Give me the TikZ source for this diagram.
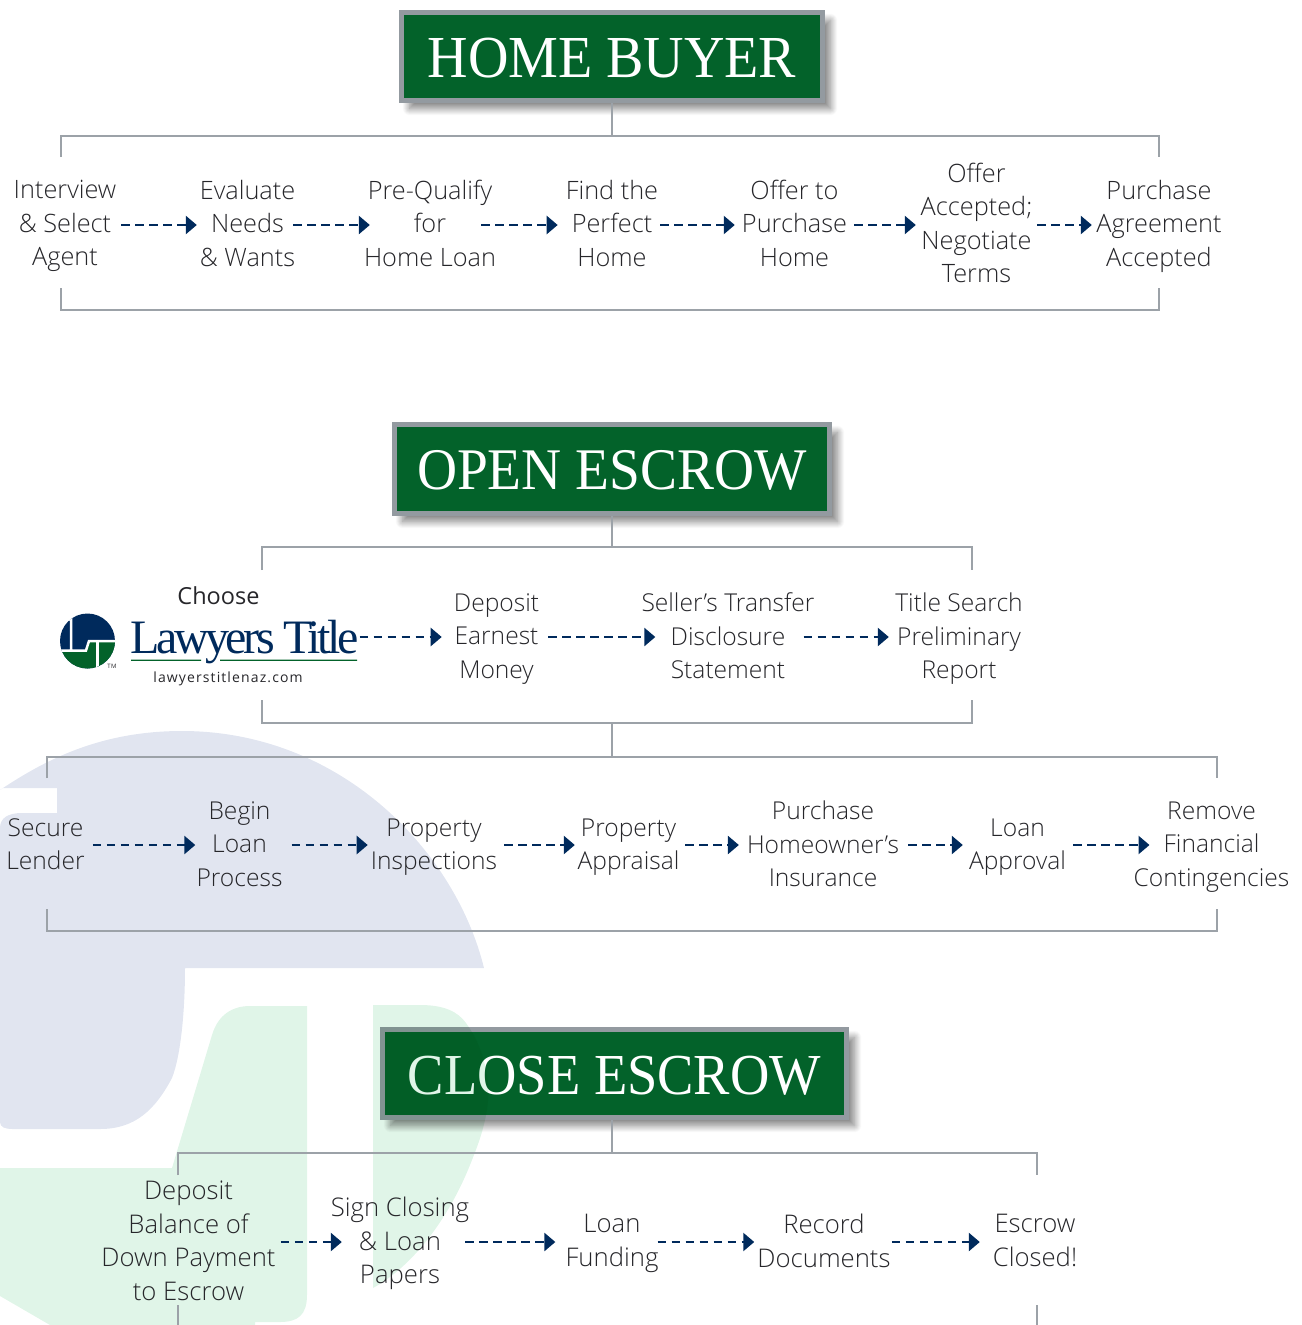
\documentclass[tikz,border=0pt]{standalone}
\usepackage{fontspec}
\usetikzlibrary{arrows.meta,shadows.blur}
\setmainfont{Open Sans Light}
\newfontfamily\bodyf{Open Sans Light}
\newfontfamily\choosef{Open Sans}
\newfontfamily\headf[FakeStretch=0.94]{Liberation Serif}
\newfontfamily\urlf[LetterSpace=8]{Open Sans}
\newfontfamily\logof[LetterSpace=-7.3]{Liberation Serif}
\definecolor{framegray}{HTML}{939AA0}
\definecolor{headgreen}{HTML}{03622A}
\definecolor{navy}{HTML}{002A5C}
\definecolor{rulegray}{HTML}{9CA2A8}
\definecolor{ink}{HTML}{26262A}
\definecolor{wmblue}{HTML}{E1E5F0}
\definecolor{wmgreen}{HTML}{E0F5E8}
\newcommand{\lineprop}[2]{\rule[-#2pt]{0pt}{#1pt}}
\newcommand{\lsize}{24.6}
\newcommand{\rowshift}{0}
\tikzset{
  x=1pt,y=-1pt,
  lbl/.style={font=\bodyf\fontsize{\lsize}{33.5}\selectfont,text=ink,align=center,inner sep=0pt,
     execute at begin node={\lineprop{34}{0}},execute at end node={\lineprop{0}{10}}},
  head/.style={draw=framegray,line width=5pt,fill=headgreen,text=white,inner sep=0pt,text height=41pt,text depth=0pt,
     blur shadow={shadow xshift=8pt,shadow yshift=-8pt,shadow blur steps=14,shadow blur radius=7pt,shadow opacity=50}},
  flow/.style={draw=navy,line width=2.5pt,dash pattern=on 8.5pt off 5.5pt,-{Triangle[length=11pt,width=18pt,fill=navy]}},
  rule/.style={draw=rulegray,line width=1.2pt},
}
\newcommand{\lab}[5]{\node[lbl,minimum width=#4 pt] (#1) at (#2,#3) {#5};}
\newcommand{\flowto}[4]{\draw[flow,shorten <=#2pt,shorten >=#4pt] ([yshift=\rowshift pt]#1.east) -- ([yshift=\rowshift pt]#3.west);}
\begin{document}
\begin{tikzpicture}
\useasboundingbox (0,0) rectangle (1301,1325);
% watermark
\fill[wmblue] (0,790) -- (3,788) -- (57,788) -- (57,813) -- (22,813) .. controls (8,813) and (0,818) .. (0,828)
 -- (0,1122) .. controls (0,1127) and (5,1129) .. (12,1129) -- (100,1129)
 .. controls (135,1129) and (155,1110) .. (172,1078) .. controls (181,1055) and (185,1010) .. (185,968)
 -- (484,968) .. controls (455,850) and (340,731) .. (182,731) .. controls (100,731) and (45,760) .. (0,790) -- cycle;
\fill[wmgreen] (0,1168) -- (172,1168) -- (212,1035) .. controls (218,1015) and (232,1006) .. (250,1006) -- (307,1006)
 -- (307,1295) .. controls (307,1315) and (298,1322) .. (280,1322) -- (255,1322) -- (255,1325) -- (50,1325) -- (0,1296) -- cycle;
% headers
\node[head,minimum width=421pt,minimum height=88pt,font=\headf\fontsize{59.6}{59}\selectfont] (h1) at (612,56.5) {HOME BUYER};
\node[head,minimum width=435pt,minimum height=89pt,font=\headf\fontsize{59}{59}\selectfont] (h2) at (612,469) {OPEN ESCROW};
\node[head,minimum width=464pt,minimum height=88pt,font=\headf\fontsize{58}{59}\selectfont] (h3) at (614.5,1073.5) {CLOSE ESCROW};
\fill[wmgreen,blend mode=multiply] (373,1005) -- (420,1005) .. controls (445,1005) and (458,1012) .. (466,1023) .. controls (482,1045) and (490,1075) .. (488,1100) .. controls (486,1125) and (478,1145) .. (470,1165) .. controls (450,1215) and (415,1265) .. (373,1288) -- cycle;
% brackets
\coordinate (a1) at (61,157); \coordinate (a2) at (61,136); \coordinate (a3) at (1159,136); \coordinate (a4) at (1159,157); \coordinate (aj) at (612,136);
\coordinate (b1) at (61,288); \coordinate (b2) at (61,310); \coordinate (b3) at (1159,310); \coordinate (b4) at (1159,288);
\draw[rule] (a1) -- (a2) -- (a3) -- (a4);
\draw[rule] (b1) -- (b2) -- (b3) -- (b4);
\draw[rule] (aj) -- (aj |- h1.south);
\coordinate (c1) at (262,570); \coordinate (c2) at (262,547); \coordinate (c3) at (972,547); \coordinate (c4) at (972,570); \coordinate (cj) at (612,547);
\coordinate (d1) at (262,700); \coordinate (d2) at (262,723); \coordinate (d3) at (972,723); \coordinate (d4) at (972,700); \coordinate (dj) at (612,723);
\draw[rule] (c1) -- (c2) -- (c3) -- (c4);
\draw[rule] (d1) -- (d2) -- (d3) -- (d4);
\draw[rule] (cj) -- (cj |- h2.south);
\coordinate (e1) at (47,778); \coordinate (e2) at (47,757); \coordinate (e3) at (1217,757); \coordinate (e4) at (1217,778); \coordinate (ej) at (612,757);
\coordinate (f1) at (47,909); \coordinate (f2) at (47,931); \coordinate (f3) at (1217,931); \coordinate (f4) at (1217,909);
\draw[rule] (e1) -- (e2) -- (e3) -- (e4);
\draw[rule] (f1) -- (f2) -- (f3) -- (f4);
\draw[rule] (dj) -- (ej);
\coordinate (g1) at (178,1175); \coordinate (g2) at (178,1153); \coordinate (g3) at (1037,1153); \coordinate (g4) at (1037,1175); \coordinate (gj) at (612,1153);
\coordinate (k1) at (178,1305); \coordinate (k2) at (178,1325); \coordinate (k3) at (1037,1305); \coordinate (k4) at (1037,1325);
\draw[rule] (g1) -- (g2) -- (g3) -- (g4);
\draw[rule] (k1) -- (k2); \draw[rule] (k3) -- (k4);
\draw[rule] (gj) -- (gj |- h3.south);
% row 1
\renewcommand{\lsize}{25.3}
\renewcommand{\rowshift}{3}
\lab{n1}{65}{228}{104}{Interview\\\& Select\\Agent}
\lab{n2}{247.5}{228}{97}{Evaluate\\Needs\\\& Wants}
\lab{n3}{430}{228}{130}{Pre-Qualify\\for\\Home Loan}
\lab{n4}{612}{228}{92}{Find the\\Perfect\\Home}
\lab{n5}{794.5}{228}{101}{Offer to\\Purchase\\Home}
\lab{n6}{976.5}{228}{113}{Offer\\Accepted;\\Negotiate\\Terms}
\lab{n7}{1159}{228}{126}{Purchase\\Agreement\\Accepted}
\flowto{n1}{4}{n2}{2}
\flowto{n2}{-3}{n3}{-6}
\flowto{n3}{-15}{n4}{8}
\flowto{n4}{2}{n5}{7}
\flowto{n5}{7}{n6}{4}
\flowto{n6}{4}{n7}{4}
% row 2
\renewcommand{\lsize}{24.6}
\renewcommand{\rowshift}{4}
\node[inner sep=0pt,text=ink,font=\choosef\fontsize{23.5}{33.5}\selectfont] (choose) at (218.5,596) {Choose};
\node[inner sep=0pt,text=navy,font=\logof\fontsize{48}{48}\selectfont,minimum width=225pt,text height=32pt,text depth=0pt] (lt) at (244.5,637) {Lawyers Title};
\node[inner sep=0pt,text=ink,font=\urlf\fontsize{14}{14}\selectfont] (url) at (228,678.5) {lawyerstitlenaz.com};
\node[inner sep=0pt,text=ink,font=\urlf\fontsize{6}{6}\selectfont] (tm) at (112,666) {TM};
\fill[headgreen] (131,659.5) rectangle (201,660.8) (220,659.5) rectangle (357,660.8);
\begin{scope}
\clip (87.5,641) circle (27.5);
\fill[navy] (59,613) rectangle (116,670);
\fill[headgreen] (59,652) -- (86.7,652) -- (89.3,642) -- (116,642) -- (116,670) -- (59,670) -- cycle;
\draw[white,line width=2.5pt] (71,612) -- (71,650.5) (59,650.5) -- (86,650.5) -- (89,641) -- (116,641);
\draw[white,line width=2.5pt] (97.5,641) -- (97.5,670);
\draw[white,line width=2pt] (64,620) -- (71,620);
\end{scope}
\lab{o1}{496.5}{641}{85}{Deposit\\Earnest\\Money}
\lab{o2}{728}{641}{172}{Seller’s Transfer\\Disclosure\\Statement}
\lab{o3}{959}{641}{130}{Title Search\\Preliminary\\Report}
\draw[flow,shorten <=1pt,shorten >=12pt] (lt.east) -- ([yshift=4pt]o1.west);
\flowto{o1}{9}{o2}{-14}
\flowto{o2}{-11}{o3}{5}
% row 3
\lab{p1}{45.5}{849}{77}{Secure\\Lender}
\lab{p2}{239.5}{849}{83}{Begin\\Loan\\Process}
\lab{p3}{434}{849}{126}{Property\\Inspections}
\lab{p4}{628.5}{849}{105}{Property\\Appraisal}
\lab{p5}{823}{849}{150}{Purchase\\Homeowner’s\\Insurance}
\lab{p6}{1017.5}{849}{101}{Loan\\Approval}
\lab{p7}{1211.5}{849}{155}{Remove\\Financial\\Contingencies}
\flowto{p1}{8}{p2}{1}
\flowto{p2}{9}{p3}{3}
\flowto{p3}{7}{p4}{1}
\flowto{p4}{4}{p5}{8}
\flowto{p5}{9}{p6}{4}
\flowto{p6}{5}{p7}{-16}
% row 4
\renewcommand{\lsize}{25.7}
\renewcommand{\rowshift}{3.5}
\lab{q1}{188.5}{1245.5}{173}{Deposit\\Balance of\\Down Payment\\to Escrow}
\lab{q2}{400}{1245.5}{140}{Sign Closing\\\& Loan\\Papers}
\lab{q3}{612}{1245.5}{92}{Loan\\Funding}
\lab{q4}{824}{1245.5}{128}{Record\\Documents}
\lab{q5}{1035}{1245.5}{86}{Escrow\\Closed!}
\flowto{q1}{5}{q2}{-12}
\flowto{q2}{-5}{q3}{10}
\flowto{q3}{-1}{q4}{3}
\flowto{q4}{1}{q5}{12}
\end{tikzpicture}
\end{document}
